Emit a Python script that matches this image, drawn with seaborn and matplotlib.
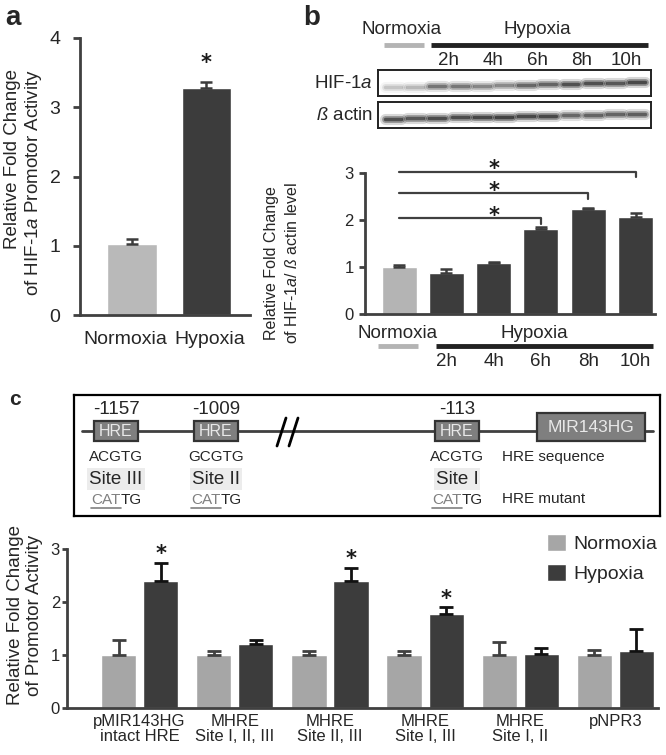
import numpy as np
import pandas as pd
import matplotlib
matplotlib.use('Agg')
import matplotlib.pyplot as plt
import matplotlib.transforms as mtransforms
from matplotlib.patches import Rectangle
import seaborn as sns

# panel a - promotor activity
a_groups = ['Normoxia', 'Hypoxia']
a_mean = [1.02, 3.28]
a_err = [0.08, 0.09]

# panel b - western blot quantification
b_groups = ['Normoxia', '2h', '4h', '6h', '8h', '10h']
b_mean = [1.00, 0.87, 1.09, 1.80, 2.23, 2.07]
b_err = [0.04, 0.08, 0.02, 0.05, 0.02, 0.07]
b_sig_pairs = [(0, 3), (0, 4), (0, 5)]
b_sig_height = [2.04, 2.57, 3.03]
blot_times = ['2h', '4h', '6h', '8h', '10h']
hif_band = [0.22, 0.28, 0.62, 0.60, 0.52, 0.50, 0.70, 0.72, 0.85, 0.85, 0.80, 0.90]
actin_band = [0.85, 0.80, 0.88, 0.88, 0.92, 0.95, 0.90, 0.90, 0.70, 0.72, 0.72, 0.75]

# panel c - HRE mutant constructs
c_constructs = ['pMIR143HG\nintact HRE', 'MHRE\nSite I, II, III', 'MHRE\nSite II, III',
                'MHRE\nSite I, III', 'MHRE\nSite I, II', 'pNPR3']
c_norm = [1.00, 1.00, 1.00, 1.00, 1.00, 1.00]
c_norm_err = [0.29, 0.07, 0.08, 0.07, 0.24, 0.10]
c_hyp = [2.40, 1.21, 2.40, 1.77, 1.02, 1.07]
c_hyp_err = [0.34, 0.07, 0.25, 0.13, 0.11, 0.43]
c_sig = [True, False, True, True, False, False]

hre_pos = ['-1157', '-1009', '-113']
hre_seq = ['ACGTG', 'GCGTG', 'ACGTG']
hre_site = ['Site III', 'Site II', 'Site I']

dark = '#3c3c3c'
light_a = '#b9b9b9'
light_b = '#b4b4b4'
light_c = '#a6a6a6'
axis_col = '#404040'

sns.set_style('ticks')
plt.rcParams['font.family'] = ['Liberation Sans', 'DejaVu Sans']
plt.rcParams['mathtext.fontset'] = 'custom'
plt.rcParams['mathtext.rm'] = 'Liberation Sans'
plt.rcParams['mathtext.it'] = 'Liberation Sans:italic'
plt.rcParams['mathtext.bf'] = 'Liberation Sans:bold'

W, H = 666, 755
fig = plt.figure(figsize=(W / 100, H / 100), dpi=100)


def px_axes(x0, y0, x1, y1):
    return fig.add_axes([x0 / W, 1 - y1 / H, (x1 - x0) / W, (y1 - y0) / H])


def ftext(x, y, s, **kw):
    return fig.text(x / W, 1 - y / H, s, **kw)


def style_axes(ax, fs, tlen, pad):
    sns.despine(ax=ax)
    for s in ['left', 'bottom']:
        ax.spines[s].set_color(axis_col)
        ax.spines[s].set_linewidth(2)
    ax.tick_params(axis='y', length=tlen, width=2, color=axis_col, labelsize=fs, pad=pad)
    ax.tick_params(axis='x', length=0, labelsize=fs)
    ax.set_xlabel('')
    ax.set_ylabel('')


def star(ax, x, y, fs=15):
    # asterisk centred on (x, y)
    ax.annotate('*', xy=(x, y), xytext=(0, -0.57 * fs), textcoords='offset points',
                ha='center', va='baseline', fontsize=fs, fontweight='bold', color='#1a1a1a',
                family='DejaVu Sans', annotation_clip=False)


def bar_centers(ax):
    bars = sorted(ax.patches, key=lambda p: p.get_x())
    return [p.get_x() + p.get_width() / 2 for p in bars]


# ---------------- panel a ----------------
ax_a = px_axes(80, 38, 250, 315)
sns.barplot(x=a_groups, y=a_mean, hue=a_groups, palette=[light_a, dark], width=0.67,
            saturation=1, legend=False, ax=ax_a)
xa = bar_centers(ax_a)
ax_a.errorbar(xa, a_mean, yerr=[np.zeros(len(a_mean)), a_err], fmt='none', ecolor=dark,
              elinewidth=1.8, capsize=4, capthick=1.8)
star(ax_a, xa[1], 3.73)
ax_a.set_xlim(-0.698, 1.584)
ax_a.set_ylim(0, 4)
ax_a.set_yticks([0, 1, 2, 3, 4])
style_axes(ax_a, 14, 5, 9)
ax_a.set_xticks(xa, ['', ''])
tr_a = mtransforms.blended_transform_factory(ax_a.transData, ax_a.transAxes)
for x, g, dx in zip(xa, a_groups, [-0.094, 0.047]):
    ax_a.text(x + dx, -0.09, g, transform=tr_a, ha='center', va='center', fontsize=14)
ftext(24, 69, 'Relative Fold Change\nof HIF-1$\\it{a}$ Promotor Activity', rotation=90,
      ha='center', va='top', multialignment='right', fontsize=13.5, linespacing=1.15)
ftext(5, 25, 'a', fontsize=20, fontweight='bold', va='baseline')

# ---------------- panel b blot ----------------
ax_h = px_axes(378, 70, 651, 96)
ax_ac = px_axes(378, 102, 651, 128)
for axb, band, y0 in [(ax_h, hif_band, 0.33), (ax_ac, actin_band, 0.35)]:
    axb.set_xlim(-0.68, 11.63)
    axb.set_ylim(0, 1)
    axb.set_xticks([])
    axb.set_yticks([])
    for s in axb.spines.values():
        s.set_color('#222222')
        s.set_linewidth(1.4)
    for i, v in enumerate(band):
        yb = y0 + 0.018 * i
        for lw, al in [(8, 0.18), (5, 0.35), (2.5, 0.55)]:
            axb.plot([i - 0.36, i + 0.36], [yb, yb], color='black', lw=lw, alpha=al * v,
                     solid_capstyle='round')
ftext(373, 83, 'HIF-1$\\it{a}$', ha='right', va='center', fontsize=13.5)
ftext(373, 115, '$\\it{ß}$ actin', ha='right', va='center', fontsize=13.5)
tr_h = mtransforms.blended_transform_factory(ax_h.transData, ax_h.transAxes)
ax_h.text(0.4, 2.54, 'Normoxia', transform=tr_h, ha='center', va='center', fontsize=13.5)
ax_h.text(6.5, 2.54, 'Hypoxia', transform=tr_h, ha='center', va='center', fontsize=13.5)
ax_h.plot([-0.4, 1.4], [1.96, 1.96], transform=tr_h, color=light_b, lw=3.5, clip_on=False,
          solid_capstyle='butt')
ax_h.plot([1.71, 11.49], [1.96, 1.96], transform=tr_h, color='#222222', lw=3.5, clip_on=False,
          solid_capstyle='butt')
for k, t in enumerate(blot_times):
    ax_h.text(2 + 2 * k + 0.5, 1.38, t, transform=tr_h, ha='center', va='center', fontsize=13.5)
ftext(303, 25, 'b', fontsize=20, fontweight='bold', va='baseline')

# ---------------- panel b bars ----------------
ax_b = px_axes(365, 173, 655, 314)
sns.barplot(x=b_groups, y=b_mean, hue=b_groups, palette=[light_b] + [dark] * 5, width=0.74,
            saturation=1, legend=False, ax=ax_b)
xb = bar_centers(ax_b)
ax_b.errorbar(xb, b_mean, yerr=[np.zeros(len(b_mean)), b_err], fmt='none', ecolor=dark,
              elinewidth=1.8, capsize=4, capthick=1.8)
for (i, j), h in zip(b_sig_pairs, b_sig_height):
    ax_b.plot([xb[i], xb[j], xb[j]], [h, h, h - 0.12], color=axis_col, lw=1.6, clip_on=False)
    star(ax_b, xb[2], h + 0.18)
ax_b.set_xlim(-0.72, 5.41)
ax_b.set_ylim(0, 3)
ax_b.set_yticks([0, 1, 2, 3])
ax_b.set_xticks([])
style_axes(ax_b, 12, 4, 4)
tr_b = mtransforms.blended_transform_factory(ax_b.transData, ax_b.transAxes)
ax_b.text(xb[0] - 0.04, -0.135, 'Normoxia', transform=tr_b, ha='center', va='center', fontsize=13.5)
ax_b.text(2.85, -0.135, 'Hypoxia', transform=tr_b, ha='center', va='center', fontsize=13.5)
ax_b.plot([xb[0] - 0.44, xb[0] + 0.40], [-0.227, -0.227], transform=tr_b, color=light_b, lw=3.5,
          clip_on=False, solid_capstyle='butt')
ax_b.plot([0.78, 5.37], [-0.227, -0.227], transform=tr_b, color='#222222', lw=3.5,
          clip_on=False, solid_capstyle='butt')
for x, t in zip(xb[1:], b_groups[1:]):
    ax_b.text(x, -0.34, t, transform=tr_b, ha='center', va='center', fontsize=13.5)
ftext(282, 263, 'Relative Fold Change\nof HIF-1$\\it{a}$/ $\\it{ß}$ actin level', rotation=90,
      ha='center', va='center', multialignment='center', fontsize=11.5, linespacing=1.45)

# ---------------- panel c diagram ----------------
ax_d = px_axes(74, 395, 660, 516)
ax_d.set_xlim(74, 660)
ax_d.set_ylim(516, 395)
ax_d.set_xticks([])
ax_d.set_yticks([])
for s in ax_d.spines.values():
    s.set_color('black')
    s.set_linewidth(1.6)
ax_d.plot([82, 653], [431, 431], color=axis_col, lw=2, zorder=1)
for x0 in [277, 289]:
    ax_d.plot([x0, x0 + 9], [446, 418], color='black', lw=2, zorder=3)
hre_x = [116, 216, 457]
r = fig.canvas.get_renderer()
for cx, p, sq, st in zip(hre_x, hre_pos, hre_seq, hre_site):
    ax_d.add_patch(Rectangle((cx - 22, 421), 44, 20, fc='#7f7f7f', ec='#333333', lw=1.6, zorder=2))
    ax_d.text(cx, 431.5, 'HRE', ha='center', va='center', color='#e8e8e8', fontsize=11.5, zorder=3)
    ax_d.text(cx, 409, p, ha='center', va='center', fontsize=13.5)
    ax_d.text(cx, 457, sq, ha='center', va='center', fontsize=11)
    ax_d.text(cx, 479, st, ha='center', va='center', fontsize=13.5,
              bbox=dict(fc='#ececec', ec='none', pad=1.5))
    t_cat = ax_d.text(cx + 4.5, 500, 'CAT', ha='right', va='center', fontsize=11, color='#808080')
    ax_d.text(cx + 4.5, 500, 'TG', ha='left', va='center', fontsize=11)
    bb = t_cat.get_window_extent(renderer=r)
    inv = ax_d.transData.inverted()
    (ux0, _), (ux1, _) = inv.transform([[bb.x0, bb.y0], [bb.x1, bb.y0]])
    ax_d.plot([ux0, ux1], [508, 508], color='#808080', lw=1.2)
ax_d.add_patch(Rectangle((537, 413), 108, 28, fc='#7f7f7f', ec='#333333', lw=1.6, zorder=2))
ax_d.text(591, 427, 'MIR143HG', ha='center', va='center', color='#e8e8e8', fontsize=12.5, zorder=3)
ax_d.text(502, 457, 'HRE sequence', ha='left', va='center', fontsize=11)
ax_d.text(502, 499, 'HRE mutant', ha='left', va='center', fontsize=11)
ftext(9, 405, 'c', fontsize=15, fontweight='bold', va='baseline')

# ---------------- panel c bars ----------------
ax_c = px_axes(67, 549, 658, 708)
df_c = pd.DataFrame({
    'construct': c_constructs * 2,
    'condition': ['Normoxia'] * len(c_constructs) + ['Hypoxia'] * len(c_constructs),
    'value': c_norm + c_hyp,
})
sns.barplot(data=df_c, x='construct', y='value', hue='condition',
            palette={'Normoxia': light_c, 'Hypoxia': dark}, width=0.884, gap=0.163,
            saturation=1, ax=ax_c)
for cont, vals, errs, ecol in zip(ax_c.containers, [c_norm, c_hyp], [c_norm_err, c_hyp_err],
                                  [axis_col, '#111111']):
    xs = [p.get_x() + p.get_width() / 2 for p in cont]
    ax_c.errorbar(xs, vals, yerr=[np.zeros(len(vals)), errs], fmt='none', ecolor=ecol,
                  elinewidth=2, capsize=5, capthick=2)
    if vals is c_hyp:
        for x, v, e, s in zip(xs, vals, errs, c_sig):
            if s:
                star(ax_c, x, v + e + 0.27)
ax_c.set_xlim(-0.763, 5.447)
ax_c.set_ylim(0, 3)
ax_c.set_yticks([0, 1, 2, 3])
style_axes(ax_c, 12, 3.5, 1.5)
ax_c.tick_params(axis='x', pad=4)
for t in ax_c.get_xticklabels():
    t.set_linespacing(1.0)
hnd, lab = ax_c.get_legend_handles_labels()
ax_c.legend(hnd, lab, loc='upper left', bbox_to_anchor=(547 / W, 1 - 534 / H),
            bbox_transform=fig.transFigure, frameon=False, fontsize=14, handlelength=1.0,
            handleheight=1.0, handletextpad=0.35, labelspacing=0.55, borderpad=0, borderaxespad=0)
ftext(25, 615, 'Relative Fold Change\nof Promotor Activity', rotation=90, ha='center',
      va='center', multialignment='center', fontsize=13.5, linespacing=1.15)

fig.savefig('out.png', dpi=100)
